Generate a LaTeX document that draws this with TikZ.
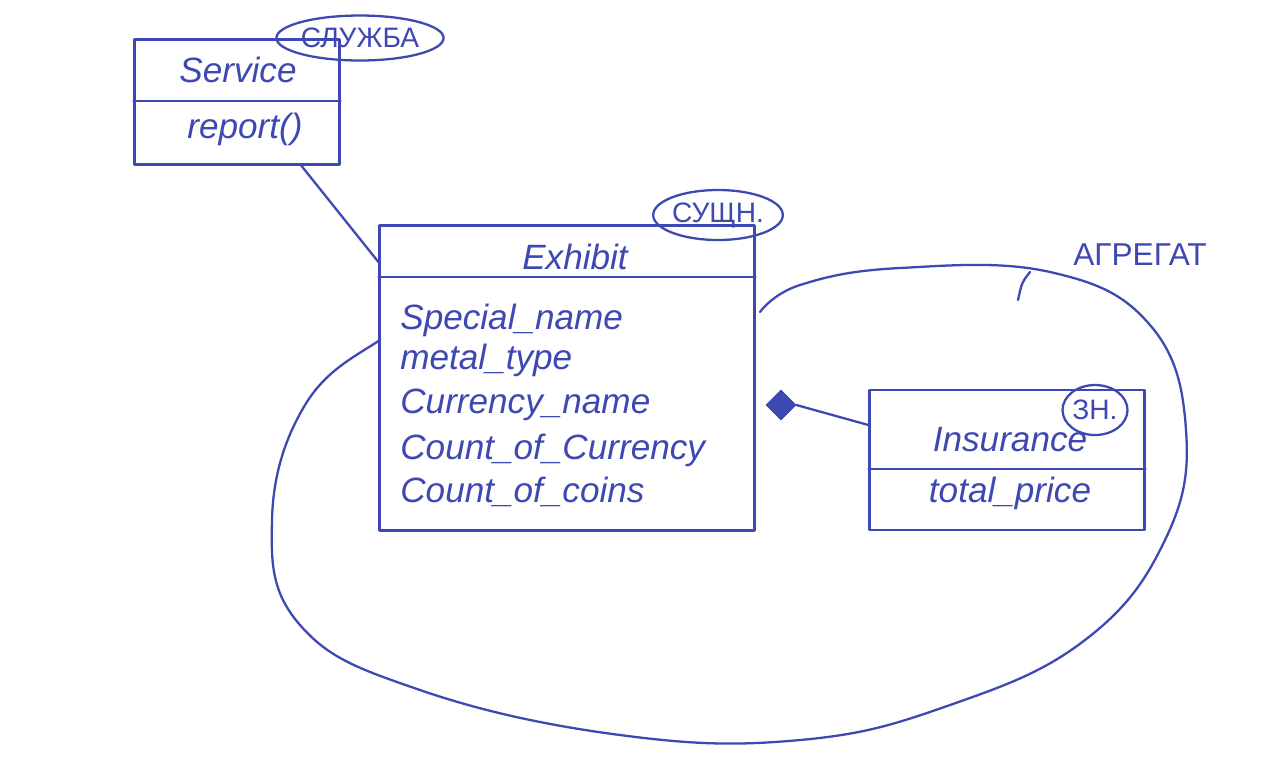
\documentclass[tikz,border=0pt]{standalone}
\usepackage{fontspec}
\setmainfont{Liberation Sans}
\usetikzlibrary{shapes.geometric}
\definecolor{ink}{RGB}{62,72,178}
\tikzset{
  ink line/.style={draw=ink, line width=1.3pt, line cap=round, line join=round},
  umlbox/.style={ink line, fill=white, rectangle, inner sep=0pt},
  attr/.style={text=ink, font=\itshape\fontsize{20}{24}\selectfont, inner sep=0pt},
  tag/.style={ink line, ellipse, inner sep=0pt, text=ink, font=\fontsize{16}{18}\selectfont},
  note/.style={text=ink, font=\fontsize{18}{20}\selectfont, inner sep=0pt},
}
\begin{document}
\begin{tikzpicture}[x=0.02cm, y=-0.02cm]
\useasboundingbox (0,0) rectangle (1280,779);
\fill[white] (0,0) rectangle (1280,779);

% aggregate boundary
\draw[ink line] plot[smooth, tension=0.7] coordinates {(760,312) (800,285) (900,268) (1050,272) (1150,325) (1186,430) (1165,540) (1085,640) (950,705) (800,740) (620,735) (420,690) (300,625) (272,520) (305,405) (380,340) (430,322)};
\draw[ink line] (1030,272) .. controls (1022,282) .. (1018,300);
\node[note] (agg) at (1140,255) {АГРЕГАТ};

% Service
\node[umlbox, minimum width=4.1cm, minimum height=2.5cm] (svc) at (237,102) {};
\draw[ink line] ([yshift=0.02cm]svc.west) -- ([yshift=0.02cm]svc.east);
\node[attr] (svcname) at (238,70) {Service};
\node[attr] (svcop) at (245,129) {report()};
\node[tag, minimum width=2.7cm, minimum height=0.9cm] (svctag) at (360,38) {СЛУЖБА};

% Exhibit
\node[umlbox, minimum width=7.5cm, minimum height=6.1cm] (exh) at (567,378) {};
\coordinate (exhdivL) at ([yshift=-1.05cm]exh.north west);
\coordinate (exhdivR) at ([yshift=-1.05cm]exh.north east);
\draw[ink line] (exhdivL) -- (exhdivR);
\node[attr] (exhname) at (575,257) {Exhibit};
\node[attr, anchor=west] (a1) at (400,320) {Special\_name};
\node[attr, anchor=west] (a2) at (400,360) {metal\_type};
\node[attr, anchor=west] (a3) at (400,405) {Currency\_name};
\node[attr, anchor=west] (a4) at (400,450) {Count\_of\_Currency};
\node[attr, anchor=west] (a5) at (400,492) {Count\_of\_coins};
\node[tag, minimum width=2.3cm, minimum height=1.0cm] (exhtag) at (718,215) {СУЩН.};

% Insurance
\node[umlbox, minimum width=5.5cm, minimum height=2.8cm] (ins) at (1007,460) {};
\coordinate (insdivL) at ([yshift=-1.6cm]ins.north west);
\coordinate (insdivR) at ([yshift=-1.6cm]ins.north east);
\draw[ink line] (insdivL) -- (insdivR);
\node[attr] (insname) at (1010,440) {Insurance};
\node[attr] (insattr) at (1010,493) {total\_price};
\node[tag, minimum width=1.3cm, minimum height=1.0cm] (instag) at (1095,410) {ЗН.};

% connectors
\coordinate (svcend) at (300,164);
\draw[ink line] (svcend) -- (exh.west |- 0,262);
\node[diamond, fill=ink, draw=ink, minimum width=0.6cm, minimum height=0.6cm, inner sep=0pt] (comp) at (781,405) {};
\draw[ink line] (comp.east) -- (ins.west |- 0,425);
\end{tikzpicture}
\end{document}
